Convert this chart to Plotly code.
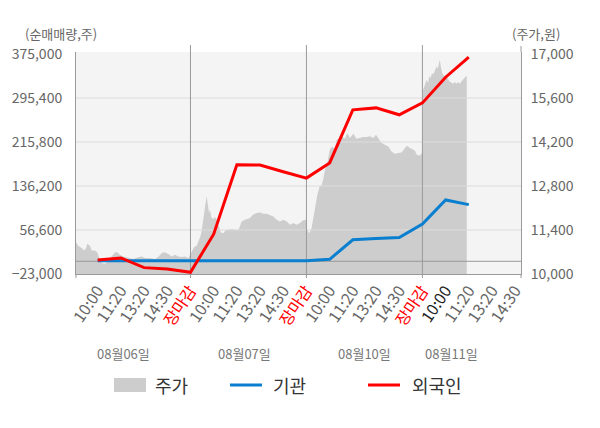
import plotly.graph_objects as go

# x axis: one step per tick, 0 = 08/06 10:00
tick_labels = ["10:00", "11:20", "13:20", "14:30", "장마감"] * 3 + ["10:00", "11:20", "13:20", "14:30"]
day_labels = ["08월06일", "08월07일", "08월10일", "08월11일"]
day_breaks = [4, 9, 14]

# cumulative net buying (shares) at each estimate point, up to 08/11 11:20
inst_net = [1000, 1000, 1000, 1000, 1000, 1000, 1000, 1000, 1000, 1000,
            3500, 39000, 41000, 43000, 67500, 111000, 102500]              # 기관
foreign_net = [2500, 6000, -11500, -14000, -20000, 49000, 174500, 174000, 162000,
               150500, 178000, 274000, 277500, 265000, 286500, 333000, 369500]  # 외국인

# share price (grey area), x in tick steps
price_x = [-0.95, -0.84, -0.69, -0.59, -0.50, -0.45, -0.33, -0.26, -0.12, -0.02,
           0.07, 0.17, 0.31, 0.46, 0.60, 0.75, 0.85, 0.96, 1.10, 1.32,
           1.53, 1.75, 1.90, 2.04, 2.25, 2.47, 2.61, 2.76, 2.90, 3.04,
           3.19, 3.33, 3.47, 3.62, 3.76, 3.91, 3.98,
           4.05, 4.16, 4.27, 4.37, 4.45, 4.51, 4.55, 4.60, 4.66, 4.70,
           4.74, 4.80, 4.84, 4.91, 4.98, 5.06, 5.13, 5.20, 5.31, 5.41,
           5.52, 5.63, 5.78, 5.92, 6.06, 6.13, 6.21, 6.35, 6.56, 6.71,
           6.85, 7.00, 7.14, 7.28, 7.43, 7.57, 7.72, 7.86, 8.00, 8.15,
           8.29, 8.43, 8.58, 8.72, 8.86, 8.97,
           9.03, 9.12, 9.22, 9.32, 9.41, 9.47, 9.56, 9.66, 9.72, 9.80,
           9.90, 10.01, 10.11, 10.23, 10.30, 10.41, 10.52, 10.66, 10.76, 10.88,
           11.02, 11.16, 11.31, 11.45, 11.59, 11.74, 11.88, 12.00, 12.09, 12.24,
           12.38, 12.53, 12.67, 12.81, 12.96, 13.10, 13.25, 13.34, 13.46, 13.60,
           13.67, 13.75, 13.89, 13.98,
           14.01, 14.03, 14.11, 14.18, 14.25, 14.29, 14.35, 14.42, 14.47, 14.54,
           14.61, 14.66, 14.71, 14.75, 14.79, 14.85, 14.93, 15.04, 15.16, 15.26,
           15.33, 15.40, 15.47, 15.54, 15.61, 15.69, 15.76, 15.83, 15.91]
price_y = [11040, 10900, 10830, 10750, 10830, 10960, 10900, 10750, 10750, 10690,
           10510, 10350, 10330, 10400, 10560, 10690, 10690, 10610, 10560, 10510,
           10480, 10530, 10560, 10510, 10510, 10480, 10540, 10670, 10690, 10640,
           10560, 10610, 10560, 10540, 10560, 10510, 10610,
           10750, 10860, 10900, 11090, 11250, 11510, 11780, 12100, 12310, 12470,
           12260, 11940, 12050, 11780, 11750, 11810, 11730, 11570, 11320, 11300,
           11390, 11410, 11430, 11410, 11410, 11510, 11670, 11730, 11780, 11890,
           11940, 11960, 11920, 11920, 11860, 11830, 11730, 11670, 11730, 11670,
           11570, 11620, 11570, 11620, 11710, 11730,
           11410, 11300, 11460, 11830, 12260, 12520, 12770, 12840, 13000, 13320,
           13530, 13960, 14060, 13960, 14270, 14300, 14380, 14300, 14490, 14330,
           14460, 14300, 14330, 14360, 14360, 14380, 14330, 14430, 14330, 14170,
           14110, 14060, 13900, 13830, 13850, 13870, 14010, 14080, 14010, 13960,
           13930, 13800, 13760, 13850,
           15700, 15860, 16020, 16180, 16080, 16290, 16240, 16400, 16340, 16500,
           16610, 16530, 16770, 16820, 16610, 16400, 16290, 16290, 16130, 16080,
           16050, 16110, 16050, 16110, 16050, 16130, 16180, 16260, 16320]

net_ticks = [-23000, 56600, 136200, 215800, 295400, 375000]
price_ticks = [10000, 11400, 12800, 14200, 15600, 17000]

FONT = "Noto Sans CJK KR"
RED = "#ff0000"
BLUE = "#0a7fd0"
AREA = "#cdcdcd"
GRID = "#dcdcdc"
AXIS = "#9a9a9a"

# plot box in pixels (page is 600 x 428)
L, R, T, B = 76, 521, 52, 274
X_RANGE = [-0.935, 18.25]
NET_RANGE = [-23000, 378600]
PRICE_RANGE = [10000, 17064]


def fx(px):
    return (px - L) / (R - L)


def fy(py):
    return (B - py) / (B - T)


def main():
    fig = go.Figure()

    # 주가 area (primary axis, drawn underneath)
    fig.add_trace(go.Scatter(x=price_x, y=price_y, mode="lines", fill="tozeroy",
                             fillcolor=AREA, line=dict(width=0, color=AREA),
                             name="주가", yaxis="y", showlegend=False))

    # grid, zero line and day separators on the overlay so they sit above the area
    for v in net_ticks[1:-1]:
        fig.add_trace(go.Scatter(x=X_RANGE, y=[v, v], mode="lines", yaxis="y2",
                                 line=dict(color=GRID, width=1), showlegend=False, hoverinfo="skip"))
    fig.add_trace(go.Scatter(x=X_RANGE, y=[0, 0], mode="lines", yaxis="y2",
                             line=dict(color=AXIS, width=1), showlegend=False, hoverinfo="skip"))
    for b in day_breaks:
        fig.add_trace(go.Scatter(x=[b, b], y=NET_RANGE, mode="lines", yaxis="y2",
                                 line=dict(color=AXIS, width=1), showlegend=False, hoverinfo="skip"))

    steps = list(range(len(foreign_net)))
    fig.add_trace(go.Scatter(x=steps, y=inst_net, mode="lines", yaxis="y2", name="기관",
                             line=dict(color=BLUE, width=3), showlegend=False))
    fig.add_trace(go.Scatter(x=steps, y=foreign_net, mode="lines", yaxis="y2", name="외국인",
                             line=dict(color=RED, width=3), showlegend=False))

    # tick texts: 장마감 in red, current 10:00 darker
    ticktext = []
    for i, t in enumerate(tick_labels):
        if t == "장마감":
            ticktext.append(f'<span style="color:{RED}">{t}</span>')
        elif i == 15:
            ticktext.append(f'<span style="color:#222">{t}</span>')
        else:
            ticktext.append(t)

    shapes = []
    # separator stubs outside the plot box
    for b in day_breaks:
        shapes.append(dict(type="line", xref="x", yref="paper", x0=b, x1=b, y0=1, y1=fy(45),
                           line=dict(color=AXIS, width=1)))
        shapes.append(dict(type="line", xref="x", yref="paper", x0=b, x1=b, y0=fy(278), y1=0,
                           line=dict(color=AXIS, width=1)))
    for xp in [0, 1]:
        shapes.append(dict(type="line", xref="paper", yref="paper", x0=xp, x1=xp, y0=fy(278), y1=0,
                           line=dict(color=AXIS, width=1)))
    shapes.append(dict(type="line", xref="paper", yref="paper", x0=1, x1=1, y0=1, y1=fy(46),
                       line=dict(color=AXIS, width=1)))

    # hand-made legend
    shapes.append(dict(type="rect", xref="paper", yref="paper", x0=fx(114), x1=fx(146),
                       y0=fy(392), y1=fy(378), fillcolor=AREA, line=dict(width=0)))
    shapes.append(dict(type="line", xref="paper", yref="paper", x0=fx(230), x1=fx(262),
                       y0=fy(385), y1=fy(385), line=dict(color=BLUE, width=3)))
    shapes.append(dict(type="line", xref="paper", yref="paper", x0=fx(368), x1=fx(400),
                       y0=fy(385), y1=fy(385), line=dict(color=RED, width=3)))

    annotations = [
        dict(text="(순매매량,주)", xref="paper", yref="paper", x=fx(61), y=fy(34),
             xanchor="center", yanchor="middle", showarrow=False,
             font=dict(size=13, color="#666")),
        dict(text="(주가,원)", xref="paper", yref="paper", x=fx(536), y=fy(34),
             xanchor="center", yanchor="middle", showarrow=False,
             font=dict(size=13, color="#666")),
    ]
    day_pos = [1.13, 6.35, 11.52, 15.27]
    for d, p in zip(day_labels, day_pos):
        annotations.append(dict(text=d, xref="x", yref="paper", x=p, y=fy(353),
                                xanchor="center", yanchor="middle", showarrow=False,
                                font=dict(size=13, color="#777")))
    for txt, px in [("주가", 153), ("기관", 271), ("외국인", 410)]:
        annotations.append(dict(text=txt, xref="paper", yref="paper", x=fx(px), y=fy(385),
                                xanchor="left", yanchor="middle", showarrow=False,
                                font=dict(size=18, color="#333")))

    fig.update_layout(
        width=600, height=428,
        margin=dict(l=L, r=600 - R, t=T, b=428 - B, autoexpand=False),
        paper_bgcolor="white", plot_bgcolor="#f4f4f4",
        font=dict(family=FONT, color="#666", size=14),
        showlegend=False,
        xaxis=dict(range=X_RANGE, tickvals=list(range(len(tick_labels))), ticktext=ticktext,
                   tickangle=-56, tickfont=dict(size=16, color="#666"), showgrid=False,
                   zeroline=False, showline=True, linecolor=AXIS, linewidth=1, ticks=""),
        yaxis=dict(range=PRICE_RANGE, side="right", tickvals=price_ticks,
                   tickformat=",d", showgrid=False, zeroline=False, showline=True,
                   linecolor=AXIS, linewidth=1, ticks="", ticklabelstandoff=6,
                   tickfont=dict(size=14, color="#666")),
        yaxis2=dict(range=NET_RANGE, side="left", overlaying="y", tickvals=net_ticks,
                    tickformat=",d", showgrid=False, zeroline=False, showline=True,
                    linecolor=AXIS, linewidth=1, ticks="", ticklabelstandoff=10,
                    tickfont=dict(size=14, color="#666")),
        shapes=shapes,
        annotations=annotations,
    )

    # drop the page's default body margin so the figure sits at the window's corner
    fig.write_html("out.html", config={"displayModeBar": False},
                   post_script="document.body.style.margin='0';")


if __name__ == "__main__":
    main()
